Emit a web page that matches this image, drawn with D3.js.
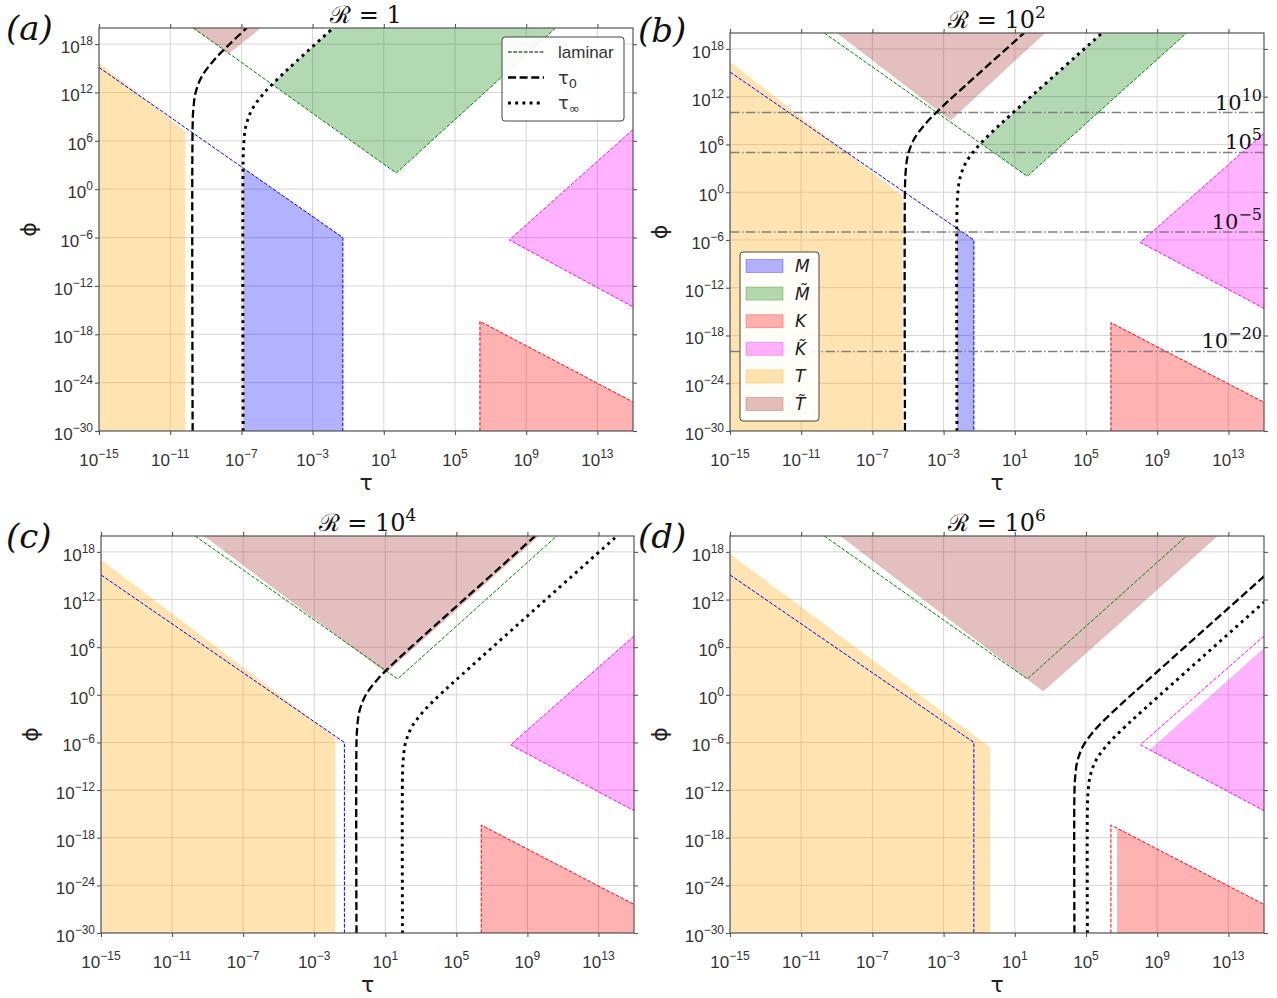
<!DOCTYPE html>
<html>
<head>
<meta charset="utf-8">
<script src="https://cdnjs.cloudflare.com/ajax/libs/d3/7.8.5/d3.min.js"></script>
<style>
body { margin: 0; background: #fff; }
</style>
</head>
<body>
<script>
//all values are log10 exponents: [log10 tau, log10 phi]

var panelIds = ["(a)", "(b)", "(c)", "(d)"];
var titleExp = ["", "2", "4", "6"]; //R = 1, 10^2, 10^4, 10^6
var xTicks = [-15, -11, -7, -3, 1, 5, 9, 13];
var yTicks = [-30, -24, -18, -12, -6, 0, 6, 12, 18];
var xDomain = [-15, 15];
var yDomain = [-30, 20];

//T region (orange)
var tFill = [
    [[-15, -30], [-15, 15.7], [-10.15, 7.2], [-10.15, -30]],
    [[-15, -30], [-15, 16.4], [-5.3, -0.5], [-5.3, -30]],
    [[-15, -30], [-15, 17.0], [-1.82, -5.3], [-1.82, -30]],
    [[-15, -30], [-15, 17.75], [-0.39, -6.6], [-0.39, -30]]
];
//T tilde region (brown)
var tTildeFill = [
    [[-9.75, 20], [-7.7, 16.85], [-5.9, 20]],
    [[-9.0, 20], [-2.6, 9.0], [2.7, 20]],
    [[-9.2, 20], [1.05, 2.75], [9.66, 20]],
    [[-8.8, 20], [2.6, 0.4], [12.4, 20]]
];
//M region (blue)
var mFill = [
    [[-6.9, -30], [-6.9, 2.63], [-1.3, -6], [-1.3, -30]],
    [[-2.25, -30], [-2.25, -4.54], [-1.3, -6], [-1.3, -30]],
    null,
    null
];
//M tilde region (green)
var mTildeFill = [
    [[-5.26, 12.99], [1.7, 2.0], [10.65, 20], [-1.85, 20], [-3.89, 15.9], [-4.86, 13.9]],
    [[-0.91, 6.12], [1.7, 2.0], [10.65, 20], [5.9, 20], [0.76, 9.7], [-0.21, 7.7]],
    null,
    null
];
//K region (red)
var kFill = [
    [[6.4, -16.4], [6.4, -30], [15, -30], [15, -26.4]],
    [[6.4, -16.4], [6.4, -30], [15, -30], [15, -26.4]],
    [[6.4, -16.4], [6.4, -30], [15, -30], [15, -26.4]],
    [[6.74, -16.8], [6.74, -30], [15, -30], [15, -26.4]]
];
//K tilde region (magenta)
var kTildeFill = [
    [[8.05, -6.3], [15, 7.4], [15, -14.6]],
    [[8.05, -6.3], [15, 7.4], [15, -14.6]],
    [[8.05, -6.3], [15, 7.4], [15, -14.6]],
    [[8.58, -6.93], [15, 5.9], [15, -14.6]]
];

//laminar boundaries (same in every panel)
var lamBlue = [[-15, 15.1], [-1.3, -6], [-1.3, -30]];
var lamGreen = [[-9.7, 20], [1.7, 2.0], [10.65, 20]];
var lamMagenta = [[15, 7.4], [8.05, -6.3], [15, -14.6]];
var lamRed = [[6.4, -30], [6.4, -16.4], [15, -26.4]];

//tau_0 curves
var tau0Pts = [
    [[-9.74, -30], [-9.74, 7.92], [-9.70, 9.92], [-9.58, 11.92], [-9.24, 13.92], [-8.58, 15.92], [-7.70, 17.92], [-6.7, 20]],
    [[-5.17, -30], [-5.17, 0.62], [-5.13, 2.62], [-5.01, 4.62], [-4.67, 6.62], [-4.01, 8.62], [-3.13, 10.62], [-2.16, 12.62], [1.52, 20]],
    [[-0.62, -30], [-0.62, -6.12], [-0.58, -4.12], [-0.46, -2.12], [-0.12, -0.12], [0.54, 1.88], [1.42, 3.88], [2.39, 5.88], [9.44, 20]],
    [[4.35, -30], [4.35, -12.4], [4.39, -10.4], [4.51, -8.4], [4.85, -6.4], [5.51, -4.4], [6.39, -2.4], [7.36, -0.4], [17.55, 20]]
];
//tau_inf curves
var tauInfPts = [
    [[-6.9, -30], [-6.9, 3.9], [-6.86, 5.9], [-6.74, 7.9], [-6.40, 9.9], [-5.74, 11.9], [-4.86, 13.9], [-3.89, 15.9], [-1.85, 20]],
    [[-2.25, -30], [-2.25, -2.3], [-2.21, -0.3], [-2.09, 1.7], [-1.75, 3.7], [-1.09, 5.7], [-0.21, 7.7], [0.76, 9.7], [5.9, 20]],
    [[1.97, -30], [1.97, -10.14], [2.01, -8.14], [2.13, -6.14], [2.47, -4.14], [3.13, -2.14], [4.01, -0.14], [4.98, 1.86], [14.04, 20]],
    [[5.08, -30], [5.08, -14.18], [5.12, -12.18], [5.24, -10.18], [5.58, -8.18], [6.24, -6.18], [7.12, -4.18], [8.09, -2.18], [19.17, 20]]
];

//reference levels in panel (b)
var hLevels = [10, 5, -5, -20];
var hLabels = ["10", "5", "\u22125", "\u221220"];

//legend of panel (b)
var regionNames = ["M", "M\u0303", "K", "K\u0303", "T", "T\u0303"];
var regionColors = ["#0000ff", "#008000", "#ff0000", "#ff00ff", "#ffa500", "#a52a2a"];

//panel frames in pixels
var panelBox = [
    {x0: 99, x1: 633, y0: 28, y1: 431},
    {x0: 730, x1: 1264, y0: 33, y1: 431},
    {x0: 101, x1: 634, y0: 536, y1: 933},
    {x0: 730, x1: 1264, y0: 536, y1: 933}
];
var labelPos = [[6, 40], [638, 42], [6, 548], [638, 548]];

var svg = d3.select("body")
    .append("svg")
    .attr("width", 1277)
    .attr("height", 998);
var defs = svg.append("defs");

var frameColor = "#555";
var tickFont = "'Liberation Sans', Arial, sans-serif";
var serifFont = "'DejaVu Serif', 'Liberation Serif', serif";

function pow10(v){ return Math.pow(10, v); }

function supText(sel, base, exp, supSize, dy){
    sel.append("tspan").text(base);
    if (exp !== "") {
        sel.append("tspan").attr("dy", -dy).attr("font-size", supSize).text(exp);
    }
}

panelIds.forEach(function(id, i){ drawPanel(i); });

function drawPanel(i){
    var b = panelBox[i];
    var x = d3.scaleLog().domain(xDomain.map(pow10)).range([b.x0, b.x1]);
    var y = d3.scaleLog().domain(yDomain.map(pow10)).range([b.y1, b.y0]);
    var px = function(d){ return x(pow10(d[0])); };
    var py = function(d){ return y(pow10(d[1])); };
    var line = d3.line().x(px).y(py);
    var curve = d3.line().x(px).y(py).curve(d3.curveCatmullRom.alpha(0.5));

    defs.append("clipPath").attr("id", "clip" + i)
        .append("rect")
        .attr("x", b.x0).attr("y", b.y0)
        .attr("width", b.x1 - b.x0).attr("height", b.y1 - b.y0);

    var g = svg.append("g");
    var plot = g.append("g").attr("clip-path", "url(#clip" + i + ")");

    //grid
    plot.selectAll(".gx").data(xTicks).enter().append("line")
        .attr("x1", function(d){ return x(pow10(d)); })
        .attr("x2", function(d){ return x(pow10(d)); })
        .attr("y1", b.y0).attr("y2", b.y1)
        .attr("stroke", "#d6d6d6").attr("stroke-width", 1);
    plot.selectAll(".gy").data(yTicks).enter().append("line")
        .attr("y1", function(d){ return y(pow10(d)); })
        .attr("y2", function(d){ return y(pow10(d)); })
        .attr("x1", b.x0).attr("x2", b.x1)
        .attr("stroke", "#d6d6d6").attr("stroke-width", 1);

    //filled regions
    function fill(poly, color){
        if (!poly) return;
        plot.append("path")
            .attr("d", line(poly) + "Z")
            .attr("fill", color)
            .attr("fill-opacity", 0.3);
    }
    fill(tFill[i], regionColors[4]);
    fill(tTildeFill[i], regionColors[5]);
    fill(mFill[i], regionColors[0]);
    fill(mTildeFill[i], regionColors[1]);
    fill(kFill[i], regionColors[2]);
    fill(kTildeFill[i], regionColors[3]);

    //laminar dashed boundaries
    [[lamBlue, "#0000ff"], [lamGreen, "#008000"], [lamMagenta, "#ff00ff"], [lamRed, "#ff0000"]]
        .forEach(function(p){
            plot.append("path")
                .attr("d", line(p[0]))
                .attr("fill", "none")
                .attr("stroke", p[1])
                .attr("stroke-width", 1)
                .attr("stroke-dasharray", "3.7,1.6");
        });

    //reference levels
    if (i === 1) {
        hLevels.forEach(function(lv){
            plot.append("line")
                .attr("x1", b.x0).attr("x2", b.x1)
                .attr("y1", y(pow10(lv))).attr("y2", y(pow10(lv)))
                .attr("stroke", "#808080").attr("stroke-width", 1.5)
                .attr("stroke-dasharray", "9.6,2.4,1.5,2.4");
        });
    }

    //tau curves
    plot.append("path")
        .attr("d", curve(tau0Pts[i]))
        .attr("fill", "none").attr("stroke", "#000")
        .attr("stroke-width", 2.3).attr("stroke-dasharray", "8,3.6");
    plot.append("path")
        .attr("d", curve(tauInfPts[i]))
        .attr("fill", "none").attr("stroke", "#000")
        .attr("stroke-width", 2.9).attr("stroke-dasharray", "2.9,4.3");

    //frame
    g.append("rect")
        .attr("x", b.x0).attr("y", b.y0)
        .attr("width", b.x1 - b.x0).attr("height", b.y1 - b.y0)
        .attr("fill", "none").attr("stroke", frameColor).attr("stroke-width", 1.2);

    //ticks on all sides
    var xv = xTicks.map(pow10), yv = yTicks.map(pow10);
    var axes = [
        [d3.axisBottom(x), "translate(0," + b.y1 + ")", xv],
        [d3.axisTop(x), "translate(0," + b.y0 + ")", xv],
        [d3.axisLeft(y), "translate(" + b.x0 + ",0)", yv],
        [d3.axisRight(y), "translate(" + b.x1 + ",0)", yv]
    ];
    axes.forEach(function(a){
        var ax = g.append("g").attr("transform", a[1])
            .call(a[0].tickValues(a[2]).tickSize(4).tickFormat(""));
        ax.select(".domain").remove();
        ax.selectAll(".tick line").attr("stroke", frameColor).attr("stroke-width", 1.1);
    });

    //tick labels
    xTicks.forEach(function(t){
        var tx = g.append("text")
            .attr("x", x(pow10(t))).attr("y", b.y1 + 35)
            .attr("text-anchor", "middle")
            .attr("font-family", tickFont).attr("font-size", 17)
            .attr("fill", "#333");
        supText(tx, "10", t < 0 ? "\u2212" + (-t) : String(t), 12, 8);
    });
    yTicks.forEach(function(t){
        var ty = g.append("text")
            .attr("x", b.x0 - 6).attr("y", y(pow10(t)) + 9)
            .attr("text-anchor", "end")
            .attr("font-family", tickFont).attr("font-size", 17)
            .attr("fill", "#333");
        supText(ty, "10", t < 0 ? "\u2212" + (-t) : String(t), 12, 8);
    });

    //axis labels
    g.append("text")
        .attr("x", (b.x0 + b.x1) / 2).attr("y", b.y1 + 59)
        .attr("text-anchor", "middle")
        .attr("font-family", "'DejaVu Sans', sans-serif").attr("font-size", 22)
        .attr("fill", "#222")
        .text("\u03c4");
    g.append("text")
        .attr("transform", "translate(" + (b.x0 - 63) + "," + ((b.y0 + b.y1) / 2) + ") rotate(-90)")
        .attr("text-anchor", "middle")
        .attr("font-family", "'DejaVu Sans', sans-serif").attr("font-size", 22)
        .attr("fill", "#222")
        .text("\u03d5");

    //title
    var tt = g.append("text")
        .attr("x", (b.x0 + b.x1) / 2).attr("y", b.y0 - 5)
        .attr("text-anchor", "middle")
        .attr("font-family", serifFont).attr("font-size", 24)
        .attr("fill", "#111");
    supText(tt, titleExp[i] === "" ? "\u211b = 1" : "\u211b = 10", titleExp[i], 17, 10);

    //panel label
    g.append("text")
        .attr("x", labelPos[i][0]).attr("y", labelPos[i][1])
        .attr("font-family", serifFont).attr("font-style", "italic")
        .attr("font-size", 34).attr("fill", "#111")
        .text(panelIds[i]);

    if (i === 1) {
        //labels of reference levels
        hLevels.forEach(function(lv, k){
            var lt = g.append("text")
                .attr("x", b.x1 - 2).attr("y", y(pow10(lv)) - 3)
                .attr("text-anchor", "end")
                .attr("font-family", serifFont).attr("font-size", 21)
                .attr("fill", "#111");
            supText(lt, "10", hLabels[k], 16, 9);
        });
        drawRegionLegend(g);
    }
    if (i === 0) drawLineLegend(g);
}

//legend with line styles, panel (a)
function drawLineLegend(g){
    var lg = g.append("g").attr("transform", "translate(502,37)");
    lg.append("rect")
        .attr("width", 122).attr("height", 84).attr("rx", 3)
        .attr("fill", "#fff").attr("fill-opacity", 0.9)
        .attr("stroke", "#444").attr("stroke-width", 1);
    var styles = [
        {w: 1, dash: "3.7,1.6", name: "laminar", sub: ""},
        {w: 2.3, dash: "8,3.6", name: "\u03c4", sub: "0"},
        {w: 2.9, dash: "2.9,4.3", name: "\u03c4", sub: "\u221e"}
    ];
    styles.forEach(function(s, k){
        var yy = 15 + k * 25.5;
        lg.append("line")
            .attr("x1", 6).attr("x2", 42).attr("y1", yy).attr("y2", yy)
            .attr("stroke", "#000").attr("stroke-width", s.w)
            .attr("stroke-dasharray", s.dash);
        var t = lg.append("text")
            .attr("x", 56).attr("y", yy + 6)
            .attr("font-family", k === 0 ? tickFont : "'DejaVu Sans', sans-serif")
            .attr("font-size", k === 0 ? 17 : 18)
            .attr("fill", "#333");
        t.append("tspan").text(s.name);
        if (s.sub !== "") t.append("tspan").attr("dy", 4).attr("font-size", 13).text(s.sub);
    });
}

//legend with region patches, panel (b)
function drawRegionLegend(g){
    var lg = g.append("g").attr("transform", "translate(740,252)");
    lg.append("rect")
        .attr("width", 79).attr("height", 169).attr("rx", 3)
        .attr("fill", "#fff").attr("fill-opacity", 0.9)
        .attr("stroke", "#444").attr("stroke-width", 1);
    regionNames.forEach(function(n, k){
        var yy = 14 + k * 27.6;
        lg.append("rect")
            .attr("x", 6).attr("y", yy - 6.5).attr("width", 37).attr("height", 13)
            .attr("fill", regionColors[k]).attr("fill-opacity", 0.3)
            .attr("stroke", regionColors[k]).attr("stroke-opacity", 0.3);
        lg.append("text")
            .attr("x", 55).attr("y", yy + 6)
            .attr("font-family", "'DejaVu Sans', sans-serif")
            .attr("font-style", "italic").attr("font-size", 17)
            .attr("fill", "#222")
            .text(n);
    });
}
</script>
</body>
</html>
